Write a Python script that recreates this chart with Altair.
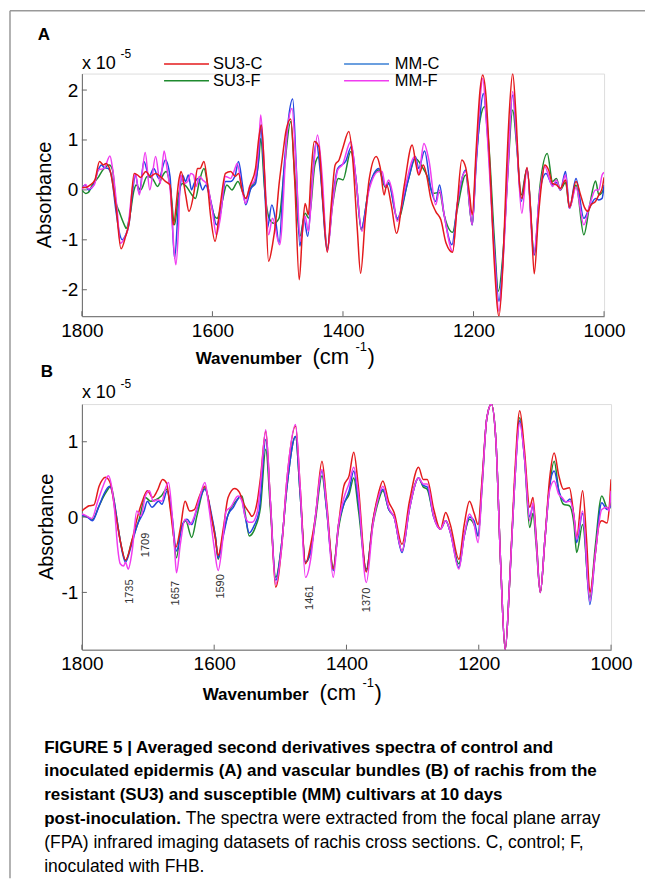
import altair as alt
import pandas as pd

FONT = "Liberation Sans"

XTICKS = [1800, 1600, 1400, 1200, 1000]
A_YTICKS = [-2, -1, 0, 1, 2]
B_YTICKS = [-1, 0, 1]

SERIES = ["SU3-C", "SU3-F", "MM-C", "MM-F"]
RED, GREEN, BLUE, MAG = "#e41a1c", "#1e8a2e", "#2247e0", "#f03cf0"
LEG_BLUE = "#3a7fd5"

# ---------------- Panel A (epidermis) ----------------
A_SU3C = [(1800,0.05),(1794,0.05),(1787,0.1),(1780,0.2),(1773,0.57),(1767,0.5),(1763,0.53),(1757,0.4),(1748,-0.3),(1740,-1.18),(1733,-0.93),(1727,-0.6),(1720,0.33),(1715,0.3),(1710,0.25),(1702,0.37),(1695,0.27),(1687,0.33),(1680,0.27),(1672,0.17),(1665,0.1),(1660,-0.7),(1651,0.23),(1648,0.37),(1641,-0.1),(1636,-0.43),(1628,-0.03),(1623,0.43),(1619,0.43),(1613,0.57),(1608,0.17),(1603,-0.5),(1596,-1.03),(1588,-0.3),(1580,0.33),(1572,0.37),(1565,0.27),(1560,0.33),(1554,-0.03),(1549,-0.17),(1542,0.1),(1534,0.43),(1529,1.03),(1525,1.3),(1520,0.3),(1514,-1.43),(1508,-1.1),(1503,-0.63),(1498,0.1),(1493,0.63),(1487,1.2),(1480,1.42),(1474,0.2),(1467,-1.8),(1462,-0.8),(1458,-0.27),(1453,-0.5),(1449,0.3),(1444,0.97),(1437,0.87),(1431,-0.2),(1424,-1.25),(1418,-0.3),(1412,0.5),(1406,0.6),(1400,0.85),(1391,1.17),(1385,0.6),(1378,-0.8),(1373,-1.67),(1366,-0.6),(1360,0.2),(1349,0.67),(1343,0.45),(1337,-0.1),(1333,0.1),(1326,-0.3),(1318,-0.87),(1306,0.1),(1294,0.9),(1288,0.5),(1284,0.3),(1277,0.5),(1272,0.3),(1265,-0.2),(1258,-0.43),(1250,-0.6),(1242,-1.07),(1232,-1.25),(1225,-0.3),(1218,0.6),(1212,0.45),(1206,-0.1),(1202,-0.5),(1196,0.8),(1190,2.0),(1186,2.3),(1181,1.9),(1175,0.5),(1168,-1.5),(1161,-2.53),(1155,-1.5),(1150,0.2),(1145,1.6),(1140,2.33),(1135,1.5),(1130,0.2),(1126,-0.17),(1118,0.45),(1112,-0.5),(1107,-1.68),(1101,-0.6),(1095,0.2),(1091,0.5),(1085,0.4),(1079,0.13),(1073,0.1),(1067,0.03),(1059,0.2),(1053,-0.35),(1043,0.17),(1036,-0.1),(1030,-0.35),(1025,-0.43),(1020,-0.3),(1013,-0.23),(1008,-0.1),(1003,0.03),(1000,0.25)]

A_SU3F = [(1800,0.0),(1794,-0.07),(1790,-0.05),(1784,0.1),(1775,0.25),(1768,0.4),(1758,0.5),(1753,0.4),(1748,-0.23),(1743,-0.43),(1735,-0.7),(1732,-0.77),(1727,-0.55),(1720,0.0),(1717,0.1),(1710,0.0),(1700,0.27),(1692,0.23),(1684,0.07),(1677,0.27),(1671,0.37),(1664,0.0),(1658,-0.7),(1652,-0.1),(1646,0.13),(1640,0.07),(1633,-0.07),(1626,-0.17),(1620,0.17),(1613,0.43),(1606,0.0),(1600,-0.4),(1593,-0.57),(1585,-0.23),(1578,0.1),(1570,0.0),(1561,0.17),(1549,-0.17),(1540,0.07),(1534,0.2),(1529,0.6),(1526,1.03),(1520,0.0),(1513,-0.57),(1506,-0.67),(1498,-0.57),(1490,0.4),(1480,1.37),(1474,0.3),(1466,-0.93),(1458,-0.47),(1452,-0.57),(1443,0.5),(1437,0.67),(1431,-0.2),(1424,-1.17),(1416,-0.3),(1407,0.23),(1400,0.2),(1388,0.77),(1380,0.2),(1372,-0.8),(1360,0.05),(1345,0.4),(1335,0.05),(1330,0.15),(1316,-0.6),(1300,0.2),(1289,0.63),(1279,0.47),(1270,0.25),(1262,-0.07),(1252,-0.05),(1245,-0.5),(1232,-0.85),(1225,-0.4),(1212,0.3),(1202,-0.7),(1196,0.6),(1190,1.4),(1183,1.67),(1176,0.8),(1168,-1.0),(1162,-2.03),(1155,-1.3),(1148,0.2),(1140,1.6),(1134,0.9),(1127,-0.1),(1118,0.43),(1107,-1.3),(1098,0.1),(1087,0.73),(1079,0.17),(1073,0.23),(1067,0.0),(1059,0.15),(1053,-0.37),(1043,0.1),(1031,-0.9),(1022,-0.3),(1013,0.18),(1008,-0.1),(1003,-0.05),(1000,0.05)]

A_MMC = [(1800,0.03),(1795,0.1),(1790,0.0),(1782,0.1),(1775,0.4),(1770,0.5),(1766,0.45),(1760,0.43),(1755,0.3),(1748,-0.4),(1743,-0.83),(1738,-1.0),(1734,-0.93),(1728,-0.7),(1722,0.0),(1718,0.3),(1712,-0.07),(1705,0.57),(1697,0.27),(1690,0.43),(1682,0.23),(1672,0.6),(1665,0.27),(1658,-1.37),(1652,-0.3),(1646,0.3),(1641,0.17),(1637,0.3),(1632,0.0),(1628,0.13),(1622,0.23),(1615,0.0),(1610,0.1),(1605,-0.1),(1600,-0.37),(1594,-0.7),(1587,-0.43),(1580,0.17),(1572,0.17),(1565,0.3),(1560,0.57),(1554,0.1),(1549,-0.3),(1541,0.03),(1534,0.13),(1529,0.7),(1526,1.3),(1522,0.6),(1516,-0.77),(1509,-0.3),(1503,-0.63),(1498,-1.07),(1490,0.5),(1477,1.82),(1472,0.6),(1466,-1.13),(1460,-0.57),(1454,-0.93),(1447,0.2),(1441,0.97),(1435,0.4),(1424,-1.2),(1416,-0.2),(1408,0.43),(1396,0.57),(1387,0.87),(1380,0.2),(1372,-0.77),(1360,0.05),(1345,0.43),(1334,0.05),(1330,0.13),(1317,-0.57),(1300,0.2),(1289,0.67),(1284,0.43),(1275,0.78),(1265,0.0),(1258,-0.23),(1252,0.1),(1245,-0.5),(1233,-1.1),(1225,-0.3),(1212,0.4),(1202,-0.7),(1196,0.5),(1190,1.5),(1185,1.93),(1178,1.0),(1168,-1.2),(1161,-2.23),(1155,-1.4),(1148,0.3),(1140,1.9),(1134,1.0),(1127,-0.23),(1118,0.43),(1107,-1.3),(1098,0.0),(1089,0.33),(1079,0.1),(1073,0.15),(1067,0.0),(1059,0.37),(1053,-0.37),(1043,0.23),(1031,-0.57),(1022,-0.35),(1013,-0.17),(1008,-0.2),(1003,-0.17),(1000,0.1)]

A_MMF = [(1800,0.0),(1794,0.11),(1790,0.02),(1781,0.1),(1775,0.4),(1766,0.43),(1757,0.68),(1753,0.43),(1746,-0.4),(1741,-1.07),(1735,-0.97),(1730,-0.8),(1723,0.0),(1718,0.33),(1712,-0.1),(1703,0.75),(1696,0.0),(1687,0.67),(1680,0.13),(1674,0.78),(1669,0.37),(1664,-0.1),(1659,-1.17),(1656,-1.5),(1652,-0.77),(1649,0.3),(1644,0.13),(1638,0.17),(1633,0.33),(1629,0.3),(1625,0.07),(1620,0.27),(1615,0.2),(1608,0.1),(1600,-0.43),(1594,-0.9),(1588,-0.57),(1580,0.27),(1572,0.23),(1567,0.37),(1562,0.53),(1555,0.03),(1549,-0.27),(1543,0.07),(1536,0.17),(1529,0.9),(1526,1.5),(1520,0.3),(1514,-0.9),(1508,-0.57),(1497,-1.1),(1485,1.23),(1478,1.63),(1472,0.5),(1465,-1.03),(1458,-0.53),(1453,-0.83),(1446,0.3),(1439,1.1),(1432,0.3),(1424,-1.23),(1416,-0.3),(1408,0.4),(1401,0.5),(1388,0.97),(1380,0.2),(1371,-0.83),(1360,0.0),(1345,0.37),(1340,0.37),(1335,0.07),(1330,0.2),(1324,-0.07),(1317,-0.63),(1304,0.1),(1290,0.67),(1284,0.33),(1276,0.93),(1268,0.57),(1258,-0.3),(1252,0.0),(1245,-0.5),(1232,-1.23),(1225,-0.3),(1212,0.37),(1202,-0.7),(1196,0.6),(1190,1.8),(1186,2.23),(1180,1.3),(1168,-1.3),(1161,-2.43),(1155,-1.5),(1148,0.2),(1140,1.97),(1134,1.0),(1126,-0.47),(1118,0.43),(1108,-1.3),(1098,0.0),(1091,0.47),(1079,0.07),(1073,0.2),(1067,0.0),(1059,0.3),(1053,-0.37),(1043,0.05),(1031,-0.7),(1022,-0.3),(1013,0.0),(1008,0.0),(1003,0.3),(1000,0.35)]

# ---------------- Panel B (vascular bundles) ----------------
B_SU3C = [(1800,0.08),(1789,0.15),(1782,0.16),(1774,0.41),(1764,0.53),(1757,0.45),(1749,0.04),(1741,-0.36),(1734,-0.57),(1724,-0.3),(1716,0.0),(1709,0.2),(1701,0.35),(1693,0.26),(1686,0.35),(1678,0.5),(1672,0.45),(1666,0.08),(1658,-0.4),(1651,-0.14),(1644,0.21),(1637,0.08),(1630,0.1),(1623,0.26),(1614,0.41),(1605,0.04),(1598,-0.3),(1594,-0.51),(1586,-0.14),(1579,0.26),(1569,0.38),(1562,0.33),(1555,0.17),(1547,0.06),(1543,0.01),(1535,0.2),(1530,0.52),(1522,1.14),(1515,0.2),(1507,-0.93),(1498,-0.4),(1490,0.5),(1477,1.21),(1470,0.4),(1462,-0.62),(1454,-0.36),(1447,0.0),(1437,0.74),(1430,0.2),(1420,-0.69),(1412,-0.1),(1404,0.41),(1396,0.55),(1389,0.86),(1382,0.4),(1370,-0.73),(1360,-0.05),(1352,0.3),(1345,0.48),(1336,0.2),(1328,0.06),(1316,-0.36),(1305,0.2),(1291,0.66),(1284,0.5),(1278,0.5),(1268,0.1),(1258,-0.16),(1250,0.06),(1243,-0.1),(1230,-0.56),(1222,-0.1),(1214,0.21),(1207,0.05),(1201,-0.1),(1195,0.5),(1188,1.3),(1181,1.5),(1174,1.0),(1167,-0.6),(1160,-1.76),(1153,-0.8),(1146,0.5),(1138,1.41),(1131,0.9),(1123,0.13),(1118,0.26),(1113,-0.3),(1107,-1.0),(1100,-0.3),(1093,0.5),(1086,0.85),(1079,0.55),(1072,0.37),(1063,0.39),(1056,0.0),(1052,-0.27),(1043,0.35),(1037,-0.3),(1032,-1.0),(1024,-0.5),(1018,-0.1),(1014,-0.05),(1006,-0.08),(1003,0.1),(1000,0.5)]

B_SU3F = [(1800,0.02),(1791,0.0),(1784,-0.03),(1774,0.15),(1764,0.32),(1756,0.41),(1749,0.08),(1741,-0.36),(1734,-0.58),(1724,-0.3),(1714,-0.05),(1704,0.26),(1696,0.21),(1688,0.23),(1680,0.28),(1672,0.37),(1664,0.0),(1657,-0.54),(1651,-0.2),(1643,-0.05),(1634,-0.27),(1626,0.02),(1614,0.39),(1605,0.04),(1598,-0.27),(1594,-0.56),(1586,-0.2),(1577,0.08),(1568,0.2),(1558,0.28),(1553,0.04),(1547,-0.25),(1538,-0.14),(1530,0.13),(1522,0.9),(1515,0.1),(1507,-0.8),(1498,-0.35),(1490,0.4),(1477,1.07),(1470,0.3),(1462,-0.6),(1454,-0.45),(1447,-0.05),(1437,0.55),(1430,0.1),(1420,-0.67),(1412,-0.15),(1404,0.17),(1396,0.3),(1389,0.52),(1382,0.1),(1370,-0.69),(1360,-0.1),(1352,0.2),(1345,0.35),(1336,0.1),(1328,0.0),(1316,-0.45),(1305,0.1),(1291,0.52),(1284,0.4),(1278,0.37),(1268,0.0),(1258,-0.16),(1250,-0.05),(1243,-0.2),(1230,-0.62),(1222,-0.25),(1214,-0.03),(1207,-0.1),(1201,-0.25),(1195,0.4),(1188,1.3),(1181,1.5),(1174,1.0),(1167,-0.6),(1160,-1.76),(1153,-0.8),(1146,0.4),(1138,1.32),(1131,0.8),(1123,-0.14),(1118,0.05),(1113,-0.4),(1107,-1.0),(1100,-0.3),(1093,0.4),(1086,0.74),(1079,0.35),(1072,0.17),(1063,0.15),(1056,-0.1),(1052,-0.47),(1043,-0.1),(1032,-1.07),(1024,-0.4),(1014,0.28),(1006,0.12),(1003,0.1),(1000,0.2)]

B_MMC = [(1800,0.02),(1792,0.0),(1784,-0.05),(1776,0.1),(1767,0.3),(1758,0.41),(1751,0.2),(1745,-0.15),(1738,-0.5),(1734,-0.6),(1726,-0.4),(1716,-0.1),(1706,0.08),(1701,0.21),(1694,0.13),(1684,0.21),(1679,0.17),(1671,0.35),(1664,0.04),(1657,-0.45),(1648,-0.1),(1641,-0.03),(1634,-0.1),(1627,0.08),(1614,0.37),(1605,0.08),(1598,-0.27),(1594,-0.54),(1586,-0.24),(1579,0.03),(1571,0.13),(1560,0.28),(1553,0.0),(1547,-0.21),(1540,-0.12),(1532,0.08),(1522,1.03),(1515,0.2),(1507,-0.84),(1498,-0.35),(1490,0.4),(1477,1.07),(1470,0.3),(1462,-0.6),(1454,-0.45),(1447,0.0),(1437,0.61),(1430,0.1),(1420,-0.71),(1412,-0.1),(1404,0.17),(1396,0.35),(1389,0.61),(1382,0.2),(1370,-0.71),(1360,-0.05),(1352,0.25),(1345,0.37),(1336,0.1),(1328,0.0),(1316,-0.47),(1305,0.1),(1291,0.52),(1284,0.42),(1278,0.4),(1268,0.0),(1258,-0.16),(1250,-0.05),(1243,-0.2),(1230,-0.67),(1222,-0.25),(1214,0.0),(1207,-0.05),(1201,-0.25),(1195,0.45),(1188,1.3),(1181,1.5),(1174,1.0),(1167,-0.6),(1160,-1.76),(1153,-0.8),(1146,0.4),(1138,1.28),(1131,0.8),(1123,0.0),(1118,0.15),(1113,-0.3),(1107,-1.0),(1100,-0.3),(1093,0.4),(1086,0.61),(1079,0.35),(1074,0.24),(1068,0.2),(1062,0.24),(1056,0.0),(1052,-0.34),(1043,0.05),(1032,-1.16),(1024,-0.5),(1014,0.19),(1006,0.1),(1003,0.12),(1000,0.15)]

B_MMF = [(1800,0.04),(1794,0.02),(1785,-0.02),(1776,0.21),(1768,0.41),(1760,0.55),(1754,0.35),(1750,0.04),(1746,-0.4),(1742,-0.62),(1737,-0.65),(1734,-0.6),(1730,-0.69),(1724,-0.45),(1717,0.08),(1714,0.05),(1711,0.01),(1704,0.28),(1698,0.35),(1692,0.21),(1686,0.23),(1679,0.21),(1674,0.37),(1669,0.46),(1664,0.08),(1660,-0.4),(1657,-0.74),(1651,-0.35),(1644,-0.03),(1637,-0.1),(1630,0.01),(1622,0.26),(1614,0.46),(1608,0.13),(1600,-0.4),(1594,-0.71),(1586,-0.22),(1582,0.08),(1575,0.13),(1564,0.28),(1558,0.21),(1553,0.0),(1547,-0.07),(1543,-0.07),(1535,0.06),(1530,0.44),(1522,1.16),(1515,0.2),(1507,-0.89),(1498,-0.4),(1490,0.5),(1477,1.23),(1470,0.4),(1462,-0.8),(1454,-0.55),(1447,0.0),(1437,0.63),(1430,0.15),(1420,-0.8),(1412,-0.1),(1404,0.25),(1396,0.45),(1389,0.66),(1382,0.3),(1370,-0.87),(1360,-0.1),(1352,0.25),(1345,0.41),(1336,0.12),(1328,0.0),(1316,-0.45),(1305,0.1),(1291,0.52),(1284,0.44),(1278,0.44),(1268,0.0),(1258,-0.16),(1250,-0.05),(1243,-0.2),(1230,-0.69),(1222,-0.25),(1214,0.04),(1207,-0.1),(1201,-0.34),(1195,0.4),(1188,1.3),(1181,1.5),(1174,1.0),(1167,-0.6),(1160,-1.76),(1153,-0.8),(1146,0.4),(1138,1.25),(1131,0.8),(1123,-0.05),(1118,0.19),(1113,-0.35),(1107,-1.0),(1100,-0.3),(1093,0.35),(1086,0.48),(1079,0.3),(1074,0.26),(1068,0.2),(1062,0.21),(1056,0.0),(1052,-0.29),(1043,0.08),(1032,-1.11),(1024,-0.5),(1014,0.1),(1006,0.13),(1003,0.08),(1000,0.35)]

B_PEAK_LABELS = ["1735", "1709", "1657", "1590", "1461", "1370"]
B_PEAK_W = [1727, 1703.5, 1657.3, 1589.4, 1455.6, 1368.6]
B_PEAK_V = [-0.99, -0.37, -1.01, -0.92, -1.07, -1.1]

CAPTION_BOLD = [
    "FIGURE 5 | Averaged second derivatives spectra of control and",
    "inoculated epidermis (A) and vascular bundles (B) of rachis from the",
    "resistant (SU3) and susceptible (MM) cultivars at 10 days",
    "post-inoculation.",
]
CAPTION_NORMAL = [
    "The spectra were extracted from the focal plane array",
    "(FPA) infrared imaging datasets of rachis cross sections. C, control; F,",
    "inoculated with FHB.",
]

AW, AH = 523, 243
BW, BH = 530, 246


def one():
    return pd.DataFrame({"k": [0]})


def txt(s, x, y, size, weight="normal", angle=0, align="left", baseline="middle", color="black"):
    return alt.Chart(pd.DataFrame({"t": [s]})).mark_text(
        align=align, baseline=baseline, fontSize=size, font=FONT,
        fontWeight=weight, angle=angle, color=color
    ).encode(text="t:N", x=alt.value(x), y=alt.value(y))


def hrule(x1, x2, y, color, width=1.5):
    return alt.Chart(one()).mark_rule(color=color, strokeWidth=width).encode(
        x=alt.value(x1), x2=alt.value(x2), y=alt.value(y))


def vrule(x, y1, y2, color, width=1.5):
    return alt.Chart(one()).mark_rule(color=color, strokeWidth=width).encode(
        x=alt.value(x), y=alt.value(y1), y2=alt.value(y2))


def axes(yticks):
    xa = alt.Axis(values=XTICKS, title=None, ticks=False, grid=False, labelFont=FONT,
                  labelFontSize=19, labelColor="black", labelPadding=5, labelFlush=False,
                  labelOverlap=False, domainColor="#666", domainWidth=1,
                  labelExpr="datum.value + ''")
    ya = alt.Axis(values=yticks, title=None, ticks=False, grid=False, labelFont=FONT,
                  labelFontSize=19, labelColor="black", labelPadding=4, labelFlush=False,
                  labelOverlap=False, domainColor="#666", domainWidth=1,
                  labelExpr="datum.value + ''")
    return xa, ya


def panel(series, W, H, ydom, yticks):
    xs = alt.Scale(domain=[1000, 1800], reverse=True, nice=False, zero=False)
    ys = alt.Scale(domain=ydom, nice=False, zero=False)
    xa, ya = axes(yticks)
    layers = []
    for pts, color in series:
        df = pd.DataFrame(pts, columns=["w", "v"])
        layers.append(
            alt.Chart(df).mark_line(color=color, strokeWidth=1.5, interpolate="monotone", clip=True)
            .encode(x=alt.X("w:Q", scale=xs, axis=xa),
                    y=alt.Y("v:Q", scale=ys, axis=ya),
                    order=alt.Order("w:Q", sort="descending"))
        )
    layers.append(
        alt.Chart(pd.DataFrame({"w": XTICKS})).mark_rule(color="#666", strokeWidth=1)
        .encode(x=alt.X("w:Q", scale=xs, axis=xa), y=alt.value(H), y2=alt.value(H - 5))
    )
    layers.append(
        alt.Chart(pd.DataFrame({"v": yticks})).mark_rule(color="#666", strokeWidth=1)
        .encode(y=alt.Y("v:Q", scale=ys, axis=ya), x=alt.value(0), x2=alt.value(5))
    )
    return layers, xs, ys


def xtitle(x0, yb):
    return [
        txt("Wavenumber", x0, yb, 17, weight="bold", baseline="alphabetic"),
        txt("(cm", x0 + 117, yb, 22, baseline="alphabetic"),
        txt("-1", x0 + 160, yb - 13, 13, baseline="alphabetic"),
        txt(")", x0 + 172, yb, 22, baseline="alphabetic"),
    ]


# ---------- Panel A ----------
a_layers, axs, ays = panel([(A_SU3F, GREEN), (A_MMC, BLUE), (A_MMF, MAG), (A_SU3C, RED)],
                           AW, AH, [-2.53, 2.33], A_YTICKS)
a_layers += [
    # figure frame (left and top)
    vrule(-72, -63, 806, "#999"),
    hrule(-72, 564, -63, "#999"),
    txt("A", -38, -39, 17, weight="bold", align="center"),
    txt("x 10", 0, -10, 18),
    txt("-5", 38.6, -19.5, 12),
    hrule(82.3, 127.3, -9.7, RED),
    hrule(82.3, 127.3, 7.3, GREEN),
    hrule(262.6, 307.6, -9.7, LEG_BLUE),
    hrule(262.6, 307.6, 7.3, MAG),
    txt("SU3-C", 131.3, -9.7, 16.5),
    txt("SU3-F", 131.3, 7.3, 16.5),
    txt("MM-C", 313.3, -9.7, 16.5),
    txt("MM-F", 313.3, 7.3, 16.5),
    txt("Absorbance", -36.7, AH / 2, 20, angle=270, align="center"),
] + xtitle(114, 291)

chartA = alt.layer(*a_layers).properties(width=AW, height=AH)

# ---------- Panel B ----------
b_layers, bxs, bys = panel([(B_SU3F, GREEN), (B_MMC, BLUE), (B_SU3C, RED), (B_MMF, MAG)],
                           BW, BH, [-1.76, 1.5], B_YTICKS)
peak_df = pd.DataFrame({"w": B_PEAK_W, "v": B_PEAK_V, "t": B_PEAK_LABELS})
b_layers.append(
    alt.Chart(peak_df).mark_text(angle=270, align="center", baseline="middle", fontSize=11,
                                 font=FONT, color="#333")
    .encode(x=alt.X("w:Q", scale=bxs), y=alt.Y("v:Q", scale=bys), text="t:N")
)
b_layers += [
    txt("B", -35, -32, 17, weight="bold", align="center"),
    txt("x 10", 0, -11, 18),
    txt("-5", 38.6, -20, 12),
    txt("Absorbance", -34.7, BH / 2, 20, angle=270, align="center"),
] + xtitle(121, 296)

cap_y = [344, 368, 392, 416, 440, 464]
for i, line in enumerate(CAPTION_BOLD):
    b_layers.append(txt(line, -37.7, cap_y[i], 17, weight="bold"))
b_layers.append(txt(CAPTION_NORMAL[0], 104, cap_y[3], 17.5))
b_layers.append(txt(CAPTION_NORMAL[1], -37.7, cap_y[4], 17.5))
b_layers.append(txt(CAPTION_NORMAL[2], -37.7, cap_y[5], 17.5))

chartB = alt.layer(*b_layers).properties(width=BW, height=BH)

chart = alt.vconcat(chartA, chartB, spacing=88, bounds="flush").properties(
    padding=0
).configure_view(stroke=None).configure(background="white")

chart.save("out.html", embed_options={"renderer": "svg", "actions": False})
